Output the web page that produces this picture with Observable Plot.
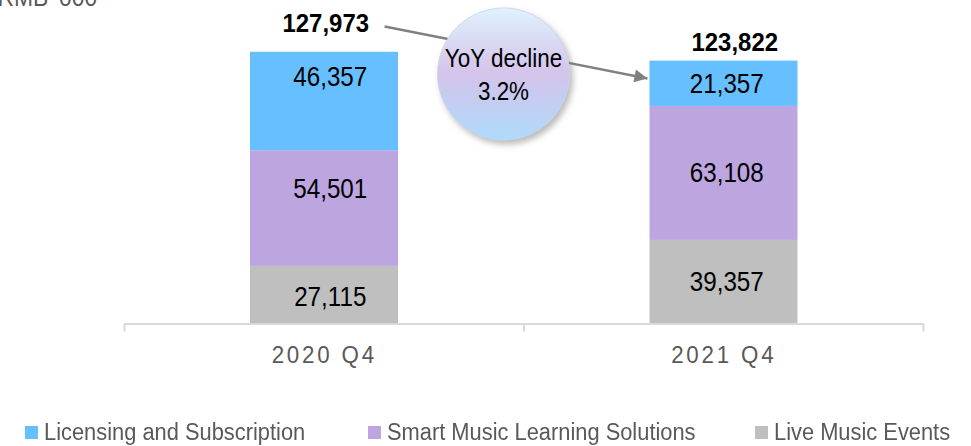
<!DOCTYPE html>
<html>
<head>
<meta charset="utf-8">
<script src="https://cdn.jsdelivr.net/npm/d3@7"></script>
<script src="https://cdn.jsdelivr.net/npm/@observablehq/plot@0.6"></script>
<style>
  html, body { margin: 0; padding: 0; background: #fff; overflow: hidden; }
  body { width: 971px; height: 446px; position: relative; font-family: "Liberation Sans", Arial, sans-serif; }
  #chart { position: absolute; left: 0; top: 0; }
  #legend { position: absolute; left: 0; top: 419px; width: 971px; height: 27px; }
  .item { position: absolute; top: 0; height: 26px; display: flex; align-items: center; font-size: 23.5px; color: #595959; white-space: nowrap; }
  .sw { width: 13px; height: 13px; margin-right: 6px; flex: none; }
  .lt { display: inline-block; transform: scaleX(0.93); transform-origin: 0 50%; }
</style>
</head>
<body>
<div id="chart"></div>
<div id="legend"></div>
<script>
// ---- data ----
const categories = ["2020 Q4", "2021 Q4"];
const series = ["Licensing and Subscription", "Smart Music Learning Solutions", "Live Music Events"];
const licensing = [46357, 21357];
const smartLearning = [54501, 63108];
const liveEvents = [27115, 39357];
const totals = [127973, 123822];
const yoyText = ["YoY decline", "3.2%"];
const unitLabel = "RMB '000";
const colors = ["#66C0FF", "#BDA5E0", "#BFBFBF"];

// ---- build stacked rows (bottom: live, then smart, then licensing) ----
const seriesValues = [licensing, smartLearning, liveEvents];
const rows = [];
categories.forEach((c, i) => {
  let base = 0;
  [2, 1, 0].forEach(s => {
    const v = seriesValues[s][i];
    rows.push({i, category: c, series: series[s], s, value: v, y1: base, y2: base + v});
    base += v;
  });
});

// per-label nudges (pixels) to mimic reference placement
const labelNudge = {"0-0": [6, -24], "0-1": [6, -19], "0-2": [6, 2], "1-0": [3, 0], "1-1": [3, 0], "1-2": [3, 0]};
const totalNudge = [[1.5, -20], [11, -10]];

const fmt = d3.format(",");
const labelFont = '"Liberation Sans", Arial, sans-serif';
const bubble = {x: 1, y: 117760};

const plot = Plot.plot({
  width: 971,
  height: 410,
  marginLeft: 124,
  marginRight: 48,
  marginTop: 5,
  marginBottom: 86.5,
  style: {overflow: "visible", fontFamily: labelFont, background: "transparent"},
  x: {domain: [0, 2], axis: null},
  y: {domain: [0, 150000], axis: null},
  color: {domain: series, range: colors},
  marks: [
    Plot.rectY(rows, {x1: d => d.i, x2: d => d.i + 1, y1: "y1", y2: "y2", fill: "series", insetLeft: 126, insetRight: 125.5}),
    ...rows.map(r => Plot.text([r], {
      x: d => d.i + 0.5, y: d => (d.y1 + d.y2) / 2, text: d => fmt(d.value),
      fontSize: 27.5, fill: "#000",
      dx: labelNudge[r.i + "-" + r.s][0], dy: labelNudge[r.i + "-" + r.s][1]
    })),
    ...totals.map((t, i) => Plot.text([t], {
      x: () => i + 0.5, y: d => d, text: d => fmt(d),
      fontSize: 26, fontWeight: "bold", fill: "#000", lineAnchor: "bottom",
      dx: totalNudge[i][0], dy: totalNudge[i][1]
    })),
    Plot.ruleY([0], {stroke: "#d9d9d9", strokeWidth: 2}),
    Plot.axisX({ticks: [0, 1, 2], tickSize: 8, tickFormat: () => "", stroke: "#d9d9d9", strokeWidth: 2}),
    Plot.axisX({ticks: [0.5, 1.5], tickSize: 0, tickPadding: 22, tickFormat: v => categories[Math.floor(v)], fontSize: 24, fill: "#595959"}),
    // arrow from 2020 total to 2021 bar
    Plot.link([{x1: 0.651, y1: 140130, x2: 1.309, y2: 115640}], {x1: "x1", y1: "y1", x2: "x2", y2: "y2", stroke: "#808080", strokeWidth: 2.4}),
    // YoY bubble
    Plot.dot([bubble], {x: "x", y: "y", r: 66, dx: -20.5, fill: "url(#bubbleGrad)", stroke: "#c8d4ea", strokeWidth: 0.8}),
    Plot.text([yoyText[0]], {x: () => bubble.x, y: () => bubble.y, text: d => d, dx: -20.5, dy: -15, fontSize: 25.5, fill: "#000"}),
    Plot.text([yoyText[1]], {x: () => bubble.x, y: () => bubble.y, text: d => d, dx: -20.5, dy: 17.5, fontSize: 25.5, fill: "#000"}),
    Plot.text([unitLabel], {frameAnchor: "top-left", text: d => d, dx: -127, dy: 0, textAnchor: "start", lineAnchor: "bottom", fontSize: 26, fill: "#595959"})
  ]
});

// defs: gradient, shadow, arrowhead marker
const ns = "http://www.w3.org/2000/svg";
const defs = document.createElementNS(ns, "defs");
defs.innerHTML = `
  <linearGradient id="bubbleGrad" x1="0" y1="0" x2="0" y2="1">
    <stop offset="0" stop-color="#dff2fd"/>
    <stop offset="0.5" stop-color="#d4c3ea"/>
    <stop offset="1" stop-color="#aedbfb"/>
  </linearGradient>
  <filter id="bubbleShadow" x="-30%" y="-30%" width="160%" height="160%">
    <feDropShadow dx="3" dy="4" stdDeviation="3" flood-color="#808080" flood-opacity="0.55"/>
  </filter>
  <marker id="arrowHead" viewBox="0 0 10 10" refX="10" refY="5" markerWidth="15" markerHeight="13" markerUnits="userSpaceOnUse" orient="auto">
    <path d="M0,0L10,5L0,10z" fill="#808080"/>
  </marker>`;
plot.insertBefore(defs, plot.firstChild);
const linkPath = plot.querySelector('g[aria-label="link"] path');
if (linkPath) linkPath.setAttribute("marker-end", "url(#arrowHead)");
const dotG = plot.querySelector('g[aria-label="dot"]');
if (dotG) dotG.setAttribute("filter", "url(#bubbleShadow)");
plot.querySelectorAll('g[aria-label="x-axis tick label"] text').forEach(t => t.setAttribute("letter-spacing", "3"));
document.getElementById("chart").appendChild(plot);

// condense text glyphs horizontally (reference uses a narrow face)
function condense(t, f) {
  const w = t.getComputedTextLength();
  if (w > 0) {
    t.setAttribute("textLength", (w * f).toFixed(1));
    t.setAttribute("lengthAdjust", "spacingAndGlyphs");
  }
}
plot.querySelectorAll('g[aria-label="text"] text').forEach(t => {
  const g = t.closest("g[font-weight]");
  const bold = g && g.getAttribute("font-weight") === "bold";
  condense(t, bold ? 0.92 : 0.88);
});
plot.querySelectorAll('g[aria-label="x-axis tick label"] text').forEach(t => condense(t, 0.93));

// legend
const legendPos = [25, 368, 755];
const legend = document.getElementById("legend");
series.forEach((s, k) => {
  const it = document.createElement("div");
  it.className = "item";
  it.style.left = legendPos[k] + "px";
  it.innerHTML = `<span class="sw" style="background:${colors[k]}"></span><span class="lt">${s}</span>`;
  legend.appendChild(it);
});
</script>
</body>
</html>
